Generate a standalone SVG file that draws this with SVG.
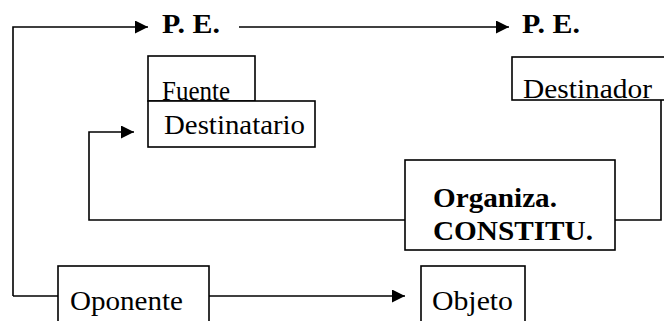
<svg xmlns="http://www.w3.org/2000/svg" width="664" height="321" viewBox="0 0 664 321">
<defs>
<style>
.box{fill:#fff;stroke:#000;stroke-width:1.6}
.ln{fill:none;stroke:#000;stroke-width:1.6}
.t{font-family:"Liberation Serif","Times New Roman",serif;font-size:28px;fill:#000}
.b{font-weight:bold}
</style>
<marker id="ah" viewBox="0 0 10 10" refX="10" refY="5" markerWidth="15" markerHeight="13" markerUnits="userSpaceOnUse" orient="auto"><path d="M0,0 L10,5 L0,10 Z" fill="#000"/></marker>
</defs>
<g id="connectors">
<polyline class="ln" points="13,296 13,27 148,27" marker-end="url(#ah)"/>
<line class="ln" x1="239" y1="27" x2="509" y2="27" marker-end="url(#ah)"/>
<polyline class="ln" points="405,220 89,220 89,132 134,132" marker-end="url(#ah)"/>
<polyline class="ln" points="661,100 661,220 615,220"/>
<line class="ln" x1="13" y1="296" x2="58" y2="296"/>
<line class="ln" x1="209" y1="296" x2="405" y2="296" marker-end="url(#ah)"/>
</g>
<g id="pe1"><text class="t b" x="162" y="33" textLength="58" lengthAdjust="spacingAndGlyphs">P. E.</text></g>
<g id="pe2"><text class="t b" x="522" y="33" textLength="58" lengthAdjust="spacingAndGlyphs">P. E.</text></g>
<g id="fuente"><rect class="box" x="148" y="56" width="107" height="45"/><text class="t" x="162" y="100" textLength="68" lengthAdjust="spacingAndGlyphs">Fuente</text></g>
<g id="destinatario"><rect class="box" x="148" y="101" width="167" height="46"/><text class="t" x="164" y="134" textLength="141" lengthAdjust="spacingAndGlyphs">Destinatario</text></g>
<g id="destinador"><rect class="box" x="512" y="57" width="160" height="43"/><text class="t" x="523" y="98" textLength="129" lengthAdjust="spacingAndGlyphs">Destinador</text></g>
<g id="organiza"><rect class="box" x="405" y="160" width="210" height="90"/><text class="t b" x="433" y="207" textLength="124" lengthAdjust="spacingAndGlyphs">Organiza.</text><text class="t b" x="433" y="240" textLength="160" lengthAdjust="spacingAndGlyphs">CONSTITU.</text></g>
<g id="oponente"><rect class="box" x="58" y="266" width="151" height="70"/><text class="t" x="70" y="310" textLength="113" lengthAdjust="spacingAndGlyphs">Oponente</text></g>
<g id="objeto"><rect class="box" x="421" y="266" width="104" height="70"/><text class="t" x="432" y="310" textLength="81" lengthAdjust="spacingAndGlyphs">Objeto</text></g>
</svg>
